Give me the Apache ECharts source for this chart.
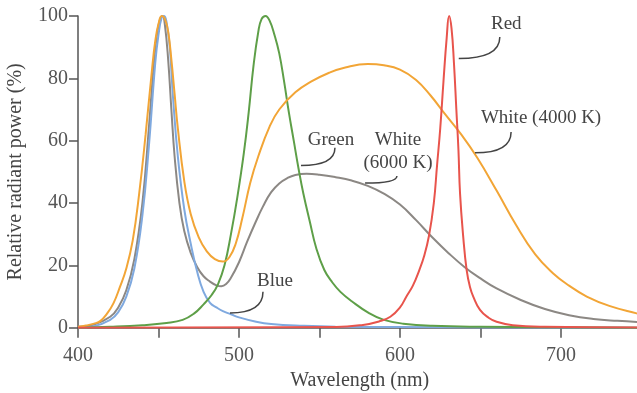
<!DOCTYPE html>
<html>
<head>
<meta charset="utf-8">
<script src="https://cdn.jsdelivr.net/npm/echarts@6/dist/echarts.min.js"></script>
<style>
html, body { margin: 0; background: #fff; }
#chart { width: 637px; height: 393px; }
</style>
</head>
<body>
<div id="chart"></div>
<script>
// spectra: wavelength (nm) and relative power (%)
const blueNm = [400, 410, 420, 425, 430, 435, 440, 444, 448, 450, 452, 453.5, 455, 457, 459, 462, 466, 470, 474, 478, 482, 486, 490, 495, 500, 510, 520, 540, 560, 600, 650, 750];
const blueVal = [0, 0.5, 2.5, 5, 10, 19, 36, 58, 85, 94, 99.5, 100, 98, 90, 74, 55, 38, 27, 18, 11.5, 8, 6.5, 5.3, 4.3, 3.3, 2, 1.2, 0.6, 0.3, 0.2, 0.1, 0];

const w6000Nm = [400, 410, 420, 425, 430, 435, 440, 444, 447, 449, 451, 452.5, 454, 456, 458, 460, 463, 466, 470, 474, 478, 482, 486, 489, 492, 495, 500, 505, 510, 515, 520, 525, 530, 535, 542, 550, 560, 570, 580, 590, 600, 610, 620, 630, 640, 650, 660, 675, 690, 705, 720, 735, 750];
const w6000Val = [0.3, 1, 3.5, 6.5, 12, 22, 40, 64, 84, 94, 99, 100, 97, 86, 70, 55, 40, 31, 24, 19.5, 16.5, 14.8, 13.6, 13.3, 14, 16, 21, 27.5, 33.5, 39, 43.5, 46.3, 48, 49, 49.4, 49.1, 48.3, 47.2, 45.5, 43, 39.5, 34.5, 29, 24, 19.5, 15.8, 12.6, 8.9, 6, 4, 2.8, 2.2, 1.8];

const greenNm = [400, 420, 440, 455, 465, 472, 478, 483, 487, 491, 495, 499, 503, 506, 509, 512, 514, 516.5, 519, 522, 525, 528, 531, 534, 537, 540, 544, 548, 553, 558, 563, 570, 581, 590, 602, 620, 650, 750];
const greenVal = [0, 0.3, 0.8, 1.5, 2.5, 4.5, 7.5, 10.5, 14, 20, 30, 42, 56, 69, 84, 95, 99, 100, 98.5, 94, 88, 79, 69, 60, 51, 43, 34, 25.5, 18.5, 14.5, 11.5, 8.5, 4.6, 2.5, 1.3, 0.6, 0.3, 0];

const w4000Nm = [400, 405, 410, 414, 418, 422, 426, 430, 434, 438, 442, 446, 448, 450, 452, 454, 456, 458, 460, 462, 466, 470, 475, 480, 485, 490, 494, 498, 502, 507, 512, 519, 525, 535, 545, 556, 566, 580, 590, 600, 610, 619, 628, 638, 648, 660, 672, 684, 695, 705, 716, 730, 747, 750];
const w4000Val = [0.3, 0.7, 1.3, 2.2, 4.5, 7.8, 13, 19, 28, 43, 62, 83, 92, 97.5, 100, 99, 95, 86, 75, 64, 47, 36.5, 29, 24.5, 22, 21.2, 22.6, 27, 35, 46.5, 55, 64.5, 70, 75.5, 79, 81.8, 83.5, 84.6, 84.2, 82.8, 79.5, 74.5, 68.5, 62, 54.5, 44, 33, 23.5, 17.5, 13.5, 10, 7, 4.6, 4.3];

const redNm = [400, 560, 577, 587, 594, 600, 604, 608, 612, 615, 618, 621, 623, 625, 627, 629, 630.5, 632, 633.5, 635, 636.3, 637.3, 639.3, 641.4, 643.5, 645.5, 649.7, 655, 660, 670, 690, 750];
const redVal = [0, 0.2, 0.9, 2, 3.5, 6.5, 10, 13.5, 18.5, 23, 29.5, 40, 52, 64, 79, 93, 100, 96, 85, 70, 57, 43, 29, 18.5, 13, 10, 5.7, 3.2, 1.9, 0.8, 0.3, 0.1];

const xTicks = [400, 500, 600, 700];
const yTicks = [0, 20, 40, 60, 80, 100];

// callout labels with their leader lines, in data units
const notes = [
    { text: 'Red', label: [666, 97.4], from: [662, 93.3], to: [636.5, 86.4] },
    { text: 'White (4000 K)', label: [687.6, 67.3], from: [669, 62.8], to: [646.6, 56.1] },
    { text: 'Green', label: [557.1, 60.2], from: [559.6, 57.7], to: [538.5, 52] },
    { text: 'White\n(6000 K)', label: [598.8, 56.5], from: [598.1, 48.7], to: [578.3, 46.4] },
    { text: 'Blue', label: [522.4, 15], from: [514.9, 11.5], to: [494.4, 4.7] }
];

const zip = (xs, ys) => xs.map((x, i) => [x, ys[i]]);
const serif = '"Liberation Serif", "DejaVu Serif", serif';

function line(name, color, xs, ys) {
    return {
        name: name,
        type: 'line',
        data: zip(xs, ys),
        smooth: 0.45,
        showSymbol: false,
        lineStyle: { color: color, width: 2 },
        itemStyle: { color: color },
        animation: false
    };
}

const chart = echarts.init(document.getElementById('chart'));
chart.setOption({
    backgroundColor: '#ffffff',
    grid: { left: 78, top: 16, width: 563.5, bottom: 65.3, outerBoundsMode: 'none' },
    xAxis: {
        type: 'value',
        min: 400,
        max: 750,
        interval: 50,
        name: 'Wavelength (nm)',
        nameLocation: 'middle',
        nameGap: 41,
        nameTextStyle: { fontFamily: serif, fontSize: 20, color: '#444' },
        axisLine: { lineStyle: { color: '#555', width: 1.5 } },
        axisTick: { length: 10, lineStyle: { color: '#555', width: 1.5 } },
        axisLabel: {
            margin: 18,
            fontFamily: serif,
            fontSize: 20,
            color: '#555',
            formatter: v => xTicks.indexOf(v) >= 0 ? String(v) : ''
        },
        splitLine: { show: false }
    },
    yAxis: {
        type: 'value',
        min: 0,
        max: 100,
        interval: 20,
        name: 'Relative radiant power (%)',
        nameLocation: 'middle',
        nameGap: 52,
        nameTextStyle: { fontFamily: serif, fontSize: 20, color: '#444' },
        axisLine: { show: true, lineStyle: { color: '#555', width: 1.5 } },
        axisTick: { show: true, length: 9, lineStyle: { color: '#555', width: 1.5 } },
        axisLabel: {
            margin: 10,
            fontFamily: serif,
            fontSize: 20,
            color: '#555',
            formatter: v => yTicks.indexOf(v) >= 0 ? String(v) : ''
        },
        splitLine: { show: false }
    },
    series: [
        line('White (6000 K)', '#8c8884', w6000Nm, w6000Val),
        line('Blue', '#7fa9df', blueNm, blueVal),
        line('Green', '#5e9f48', greenNm, greenVal),
        line('White (4000 K)', '#f2a536', w4000Nm, w4000Val),
        line('Red', '#e8544c', redNm, redVal)
    ]
});

// place the callouts through the axis scales
const px = v => chart.convertToPixel({ gridIndex: 0 }, v);
const elements = [];
notes.forEach(n => {
    const l = px(n.label), f = px(n.from), t = px(n.to);
    elements.push({
        type: 'text',
        x: l[0],
        y: l[1],
        z: 10,
        style: {
            text: n.text,
            fill: '#444',
            fontFamily: serif,
            fontSize: 19,
            lineHeight: 23,
            align: 'center',
            verticalAlign: 'middle'
        }
    });
    elements.push({
        type: 'bezierCurve',
        z: 10,
        shape: { x1: f[0], y1: f[1], x2: t[0], y2: t[1], cpx1: f[0], cpy1: t[1] },
        style: { stroke: '#444', lineWidth: 1.5, fill: null }
    });
});
chart.setOption({ graphic: elements });
</script>
</body>
</html>
